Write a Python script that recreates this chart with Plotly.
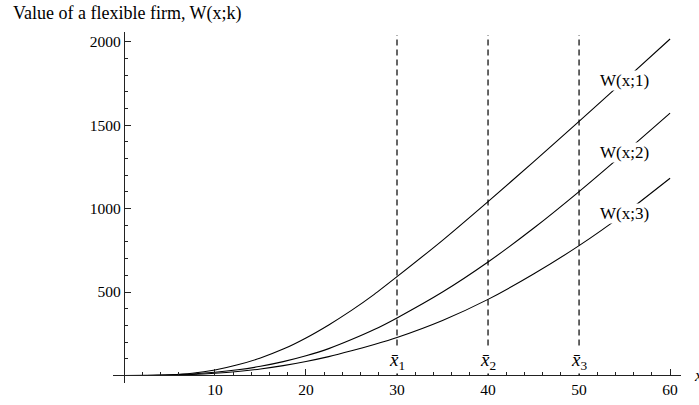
import plotly.graph_objects as go

# ---- data ----
x_vals = [0, 2.5, 5, 7.5, 10, 12.5, 15, 17.5, 20, 22.5, 25, 27.5, 30, 35, 40, 45, 50, 55, 60]
W1 = [0, 0.4, 4, 13.5, 33, 64, 105, 158, 225, 303, 390, 486, 592, 810, 1042, 1280, 1522, 1768, 2016]
W2 = [0, 0.2, 3, 9, 19, 34, 55, 83, 118, 161, 215, 275, 345, 500, 680, 882, 1102, 1334, 1572]
W3 = [0, 0.1, 1.8, 5.5, 13, 24, 39, 59, 84, 113, 148, 186, 228, 330, 456, 608, 778, 970, 1182]
series_names = ["W(x;1)", "W(x;2)", "W(x;3)"]
xbar = [30, 40, 50]
xbar_labels = ["1", "2", "3"]
x_ticks = [10, 20, 30, 40, 50, 60]
y_ticks = [500, 1000, 1500, 2000]
x_minor = [v for v in range(2, 61, 2) if v % 10 != 0]
y_minor = [v for v in range(100, 2001, 100) if v % 500 != 0]
label_x = 55
title_text = "Value of a flexible firm, W(x;k)"

XR = [-1.2, 61.2]
YR = [-45, 2058]
FONT = "Liberation Serif, Times New Roman, serif"
AX = "#222222"

fig = go.Figure()

# dashed vertical lines
for xb in xbar:
    fig.add_trace(go.Scatter(x=[xb, xb], y=[0, 2040], mode="lines",
                             line=dict(color="#000000", width=1.2, dash="6px,4px"),
                             showlegend=False, hoverinfo="skip"))

for name, ys in zip(series_names, [W1, W2, W3]):
    fig.add_trace(go.Scatter(x=x_vals, y=ys, mode="lines", name=name,
                             line=dict(color="black", width=1.1, shape="spline", smoothing=0.6),
                             showlegend=False))

# curve labels on the curves
idx = x_vals.index(label_x)
for name, ys in zip(series_names, [W1, W2, W3]):
    fig.add_annotation(x=label_x, y=ys[idx], text=name, showarrow=False,
                       xanchor="center", yanchor="middle",
                       font=dict(family=FONT, size=17, color="black"),
                       bgcolor="white", borderpad=0)

# x-bar labels
for xb, s in zip(xbar, xbar_labels):
    fig.add_annotation(x=xb, y=85, text="<i>x\u0304</i><sub>" + s + "</sub>", showarrow=False,
                       xanchor="center", yanchor="middle",
                       font=dict(family=FONT, size=19, color="black"),
                       bgcolor="white", borderpad=0)

# title
fig.add_annotation(xref="paper", yref="paper", x=(11 - 113) / 568, y=(383 - 14) / 351,
                   text=title_text, showarrow=False, xanchor="left", yanchor="middle",
                   font=dict(family=FONT, size=18, color="black"))

# axis label x
fig.add_annotation(xref="paper", yref="y", x=(692 - 113) / 568, y=0,
                   text="<i>x</i>", showarrow=False, xanchor="left", yanchor="middle",
                   font=dict(family=FONT, size=17, color="black"))

fig.update_layout(
    width=699, height=405,
    margin=dict(l=113, r=18, t=32, b=22, autoexpand=False),
    plot_bgcolor="white", paper_bgcolor="white",
    font=dict(family=FONT, color="black"),
    xaxis=dict(range=XR, showgrid=False, zeroline=False,
               anchor="free", position=(0 - YR[0]) / (YR[1] - YR[0]),
               showline=True, linecolor=AX, linewidth=1,
               tickmode="array", tickvals=x_ticks, ticks="inside", ticklen=6,
               tickcolor=AX, tickwidth=1,
               tickfont=dict(family=FONT, size=15.5, color="black"),
               minor=dict(tickmode="array", tickvals=x_minor, ticks="inside",
                          ticklen=3.5, tickcolor=AX, tickwidth=1, showgrid=False)),
    yaxis=dict(range=YR, showgrid=False, zeroline=False,
               anchor="free", position=(0 - XR[0]) / (XR[1] - XR[0]),
               showline=True, linecolor=AX, linewidth=1,
               tickmode="array", tickvals=y_ticks, ticks="inside", ticklen=6,
               tickcolor=AX, tickwidth=1,
               tickfont=dict(family=FONT, size=15.5, color="black"),
               minor=dict(tickmode="array", tickvals=y_minor, ticks="inside",
                          ticklen=3.5, tickcolor=AX, tickwidth=1, showgrid=False)),
)

fig.write_html("out.html", config={"displayModeBar": False},
               post_script="document.body.style.margin='0';")
